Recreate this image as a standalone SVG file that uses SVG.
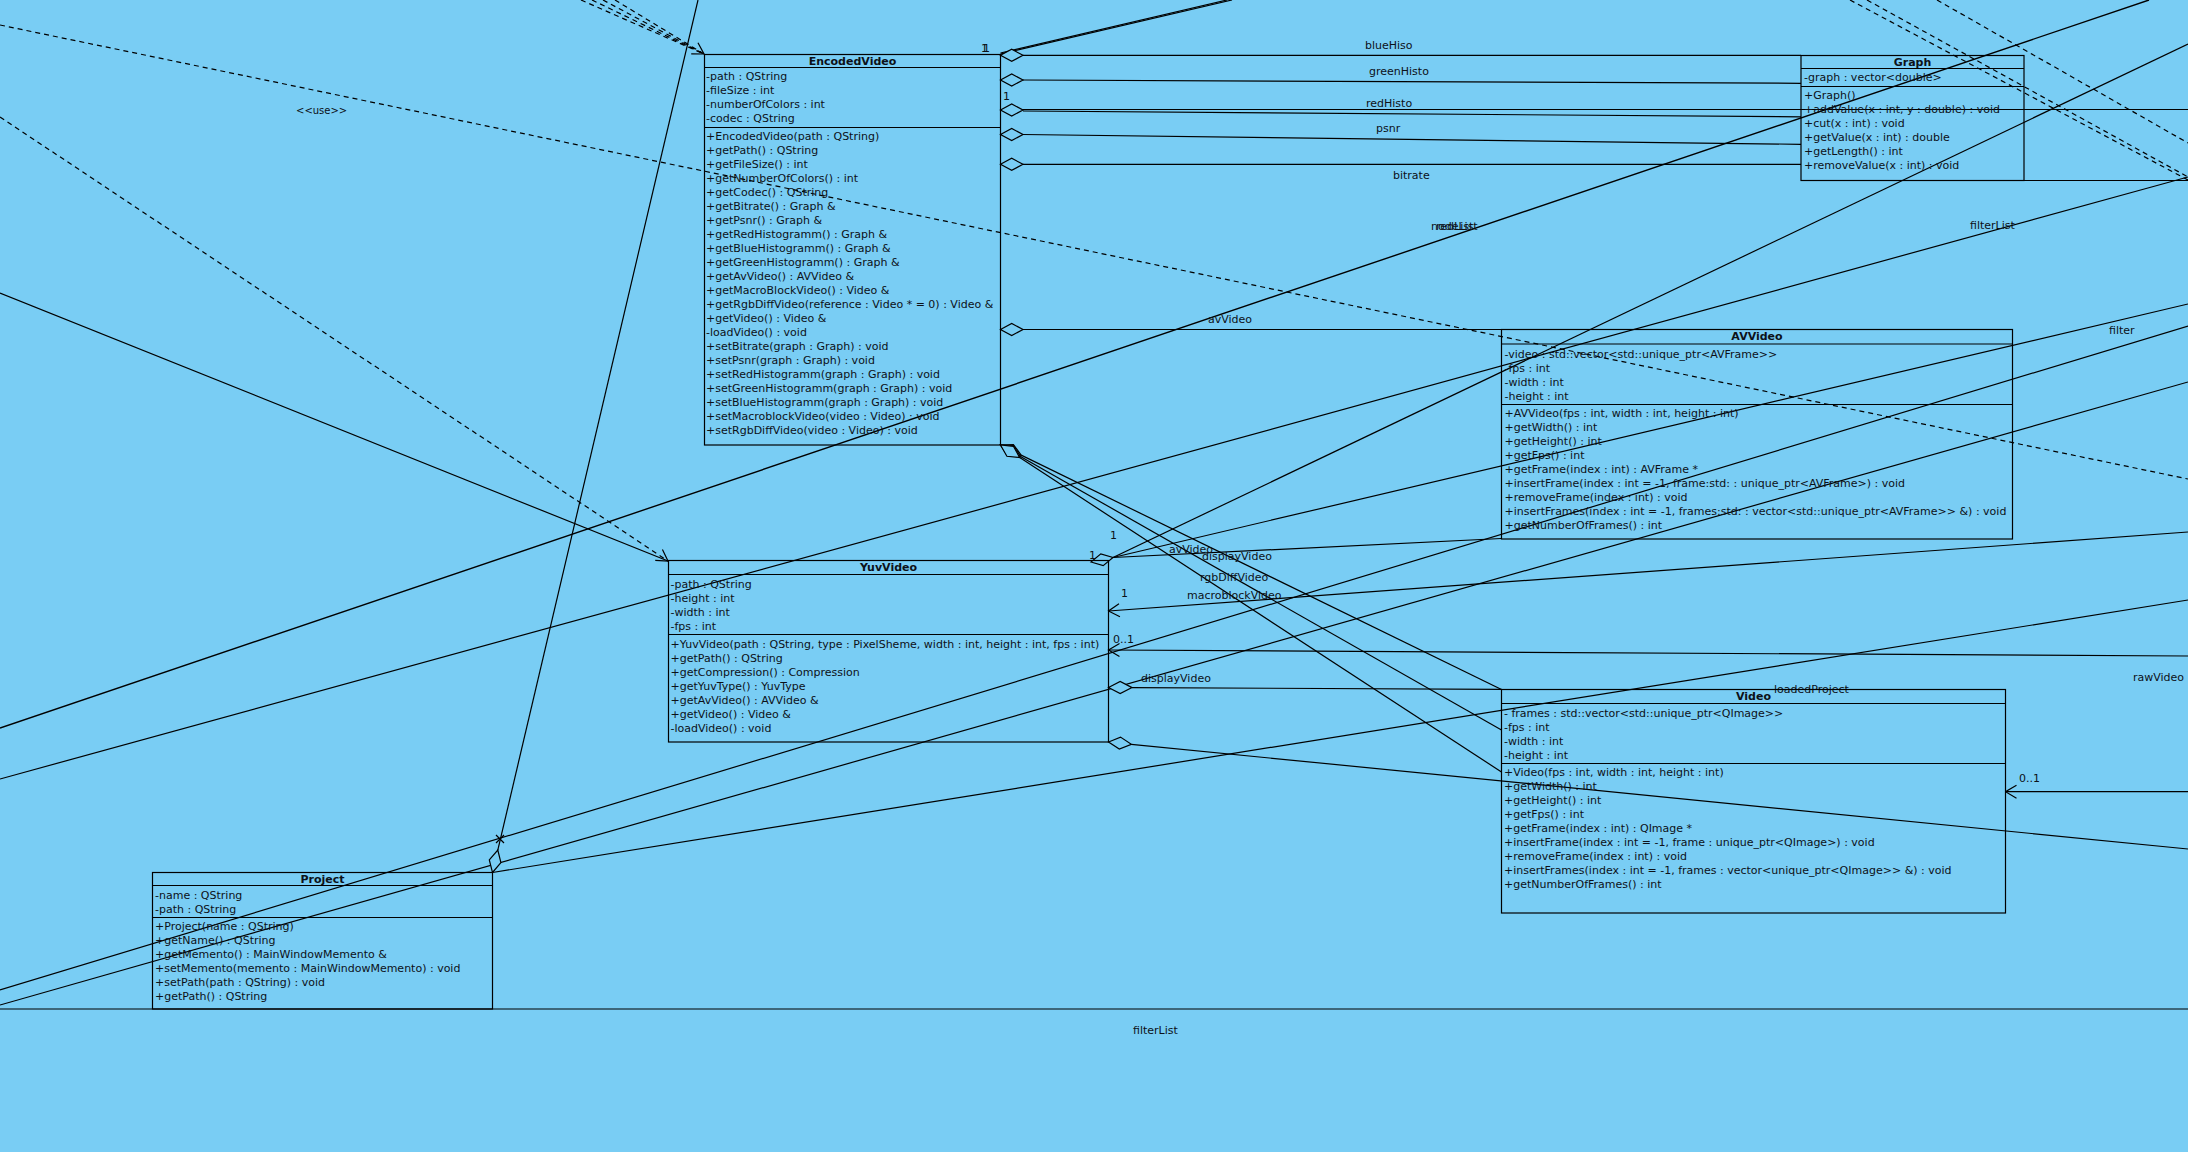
<svg xmlns="http://www.w3.org/2000/svg" width="2188" height="1152" viewBox="0 0 2188 1152">
<style>
text{font-family:"DejaVu Sans","Liberation Sans",sans-serif;font-size:11px;fill:#0d1118}
.t{font-weight:bold;text-anchor:middle}
.box{fill:none;stroke:#000;stroke-width:1.2}
.sep{stroke:#000;stroke-width:1.2}
.c{fill:none;stroke:#000;stroke-width:1.2}
.d{fill:none;stroke:#000;stroke-width:1.2;stroke-dasharray:5,4}
.dia{fill:#79cdf4;stroke:#000;stroke-width:1.2}
</style>
<defs>
<marker id="oa" viewBox="-14 -8 15 16" markerWidth="15" markerHeight="16" refX="0" refY="0" orient="auto" markerUnits="userSpaceOnUse">
<path d="M-11,-6.5 L0,0 L-11,6.5" fill="none" stroke="#000" stroke-width="1.2"/>
</marker>
</defs>
<rect x="0" y="0" width="2188" height="1152" fill="#79cdf4"/>

<g id="connectors">
<line class="d" x1="0" y1="25" x2="2188" y2="479"/>
<line class="d" x1="0" y1="117" x2="668" y2="561" marker-end="url(#oa)"/>
<line class="d" x1="581" y1="0" x2="704" y2="54"/>
<line class="d" x1="592" y1="0" x2="704" y2="54"/>
<line class="d" x1="603" y1="0" x2="704" y2="54"/>
<line class="d" x1="615" y1="0" x2="704" y2="54" marker-end="url(#oa)"/>
<line class="d" x1="1850" y1="0" x2="2188" y2="180"/>
<line class="d" x1="1867" y1="0" x2="2188" y2="177"/>
<line class="d" x1="1937" y1="0" x2="2188" y2="143"/>
<line class="c" x1="0" y1="293" x2="668" y2="561"/>
<line class="c" x1="0" y1="728" x2="2149" y2="0" style="stroke-width:1.4"/>
<line class="c" x1="0" y1="779" x2="2188" y2="177"/>
<line class="c" x1="0" y1="990" x2="2188" y2="326"/>
<line class="c" x1="0" y1="1005" x2="2188" y2="382"/>
<line class="c" x1="0" y1="1009" x2="2188" y2="1009"/>
<line class="c" x1="2024" y1="180.5" x2="2188" y2="180.5"/>
<line class="c" x1="698" y1="0" x2="497.8" y2="850.1"/>
<line class="c" x1="492.5" y1="872.5" x2="2188" y2="600"/>
<line class="c" x1="1000.5" y1="53" x2="1227" y2="0"/>
<line class="c" x1="1000.5" y1="54" x2="1232" y2="0"/>
<line class="c" x1="1023" y1="55.3" x2="1801" y2="55.3"/>
<line class="c" x1="1023" y1="80" x2="1801" y2="83.3"/>
<line class="c" x1="1000.5" y1="109.5" x2="2188" y2="109.5"/>
<line class="c" x1="1023" y1="111" x2="1801" y2="116.8"/>
<line class="c" x1="1023" y1="134.5" x2="1801" y2="144.3"/>
<line class="c" x1="1023" y1="164.3" x2="1801" y2="164.3"/>
<line class="c" x1="1023" y1="329.5" x2="1501.5" y2="329.5"/>
<line class="c" x1="1021.2" y1="455.1" x2="1501.5" y2="689.5"/>
<line class="c" x1="1020.5" y1="456.4" x2="1501.5" y2="730"/>
<line class="c" x1="1019.75" y1="457.6" x2="1501.5" y2="772"/>
<line class="c" x1="1113" y1="557.5" x2="1501.5" y2="538.5"/>
<line class="c" x1="1113" y1="557.5" x2="2188" y2="44"/>
<line class="c" x1="1113" y1="557.5" x2="2188" y2="304"/>
<line class="c" x1="2188" y1="532" x2="1108.5" y2="611" marker-end="url(#oa)"/>
<line class="c" x1="2188" y1="656" x2="1108.5" y2="650" marker-end="url(#oa)"/>
<line class="c" x1="1132" y1="687.6" x2="1501.5" y2="689.3"/>
<line class="c" x1="1131.4" y1="744.3" x2="2188" y2="849"/>
<line class="c" x1="2188" y1="791.7" x2="2005.5" y2="791.7" marker-end="url(#oa)"/>
<polygon class="dia" points="1000.5,55.3 1011.7,49.3 1023,55.3 1011.7,61.3"/>
<polygon class="dia" points="1000.5,80 1011.7,74 1023,80 1011.7,86"/>
<polygon class="dia" points="1000.5,110 1011.7,104 1023,110 1011.7,116"/>
<polygon class="dia" points="1000.5,134.5 1011.7,128.5 1023,134.5 1011.7,140.5"/>
<polygon class="dia" points="1000.5,164.3 1011.7,158.3 1023,164.3 1011.7,170.3"/>
<polygon class="dia" points="1000.5,329.5 1011.7,323.5 1023,329.5 1011.7,335.5"/>
<polygon class="dia" points="1000.5,445 1008.2,455.4 1021.2,455.1 1013.4,444.6"/>
<polygon class="dia" points="1000.5,445 1007.5,455.9 1020.5,456.4 1013.5,445.5"/>
<polygon class="dia" points="1000.5,445 1006.9,456.3 1019.75,457.6 1013.4,446.3"/>
<polygon class="dia" points="1091,562 1103.2,565.6 1113,557.5 1100.8,553.9"/>
<polygon class="dia" points="1108.5,687.5 1120.2,681.5 1132,687.6 1120.2,693.5"/>
<polygon class="dia" points="1108.5,742 1119.3,749.1 1131.4,744.3 1120.5,737.1"/>
<polygon class="dia" points="492.5,872.5 500.9,862.7 497.8,850.1 489.3,859.9"/>
<path class="c" d="M496,835 L504,843 M504,835 L496,843"/>
<text x="296" y="114" style="font-size:10px">&lt;&lt;use&gt;&gt;</text>
<text x="981" y="51.7">1</text>
<text x="983" y="51.7">1</text>
<text x="1003" y="100">1</text>
<text x="1365" y="48.5">blueHiso</text>
<text x="1369" y="75">greenHisto</text>
<text x="1366" y="106.5">redHisto</text>
<text x="1376" y="131.5">psnr</text>
<text x="1393" y="179">bitrate</text>
<text x="1431" y="230">nodeList</text>
<text x="1436" y="230">redList</text>
<text x="1970" y="228.5">filterList</text>
<text x="1208" y="322.5">avVideo</text>
<text x="2109" y="334">filter</text>
<text x="1110" y="539">1</text>
<text x="1089" y="559">1</text>
<text x="1169" y="553">avVideo</text>
<text x="1202" y="560">displayVideo</text>
<text x="1200" y="580.5">rgbDiffVideo</text>
<text x="1187" y="599">macroblockVideo</text>
<text x="1121" y="597">1</text>
<text x="1113" y="642.5">0..1</text>
<text x="1141" y="682">displayVideo</text>
<text x="1774" y="693">loadedProject</text>
<text x="2133" y="681">rawVideo</text>
<text x="2019" y="781.5">0..1</text>
<text x="1133" y="1034">filterList</text>
</g>

<g id="EncodedVideo">
<rect class="box" x="704.5" y="54.5" width="296" height="390.5"/>
<line class="sep" x1="704.5" y1="67.5" x2="1000.5" y2="67.5"/>
<line class="sep" x1="704.5" y1="127.5" x2="1000.5" y2="127.5"/>
<text class="t" x="852.5" y="65">EncodedVideo</text>
<text x="706" y="80">-path : QString</text>
<text x="706" y="94">-fileSize : int</text>
<text x="706" y="108">-numberOfColors : int</text>
<text x="706" y="122">-codec : QString</text>
<text x="706" y="140">+EncodedVideo(path : QString)</text>
<text x="706" y="154">+getPath() : QString</text>
<text x="706" y="168">+getFileSize() : int</text>
<text x="706" y="182">+getNumberOfColors() : int</text>
<text x="706" y="196">+getCodec() : QString</text>
<text x="706" y="210">+getBitrate() : Graph &amp;</text>
<text x="706" y="224">+getPsnr() : Graph &amp;</text>
<text x="706" y="238">+getRedHistogramm() : Graph &amp;</text>
<text x="706" y="252">+getBlueHistogramm() : Graph &amp;</text>
<text x="706" y="266">+getGreenHistogramm() : Graph &amp;</text>
<text x="706" y="280">+getAvVideo() : AVVideo &amp;</text>
<text x="706" y="294">+getMacroBlockVideo() : Video &amp;</text>
<text x="706" y="308">+getRgbDiffVideo(reference : Video * = 0) : Video &amp;</text>
<text x="706" y="322">+getVideo() : Video &amp;</text>
<text x="706" y="336">-loadVideo() : void</text>
<text x="706" y="350">+setBitrate(graph : Graph) : void</text>
<text x="706" y="364">+setPsnr(graph : Graph) : void</text>
<text x="706" y="378">+setRedHistogramm(graph : Graph) : void</text>
<text x="706" y="392">+setGreenHistogramm(graph : Graph) : void</text>
<text x="706" y="406">+setBlueHistogramm(graph : Graph) : void</text>
<text x="706" y="420">+setMacroblockVideo(video : Video) : void</text>
<text x="706" y="434">+setRgbDiffVideo(video : Video) : void</text>
</g>

<g id="Graph">
<rect class="box" x="1801" y="55.5" width="223" height="125"/>
<line class="sep" x1="1801" y1="68.5" x2="2024" y2="68.5"/>
<line class="sep" x1="1801" y1="86.5" x2="2024" y2="86.5"/>
<text class="t" x="1912.5" y="66">Graph</text>
<text x="1804" y="81">-graph : vector&lt;double&gt;</text>
<text x="1804" y="99">+Graph()</text>
<text x="1804" y="113">+addValue(x : int, y : double) : void</text>
<text x="1804" y="127">+cut(x : int) : void</text>
<text x="1804" y="141">+getValue(x : int) : double</text>
<text x="1804" y="155">+getLength() : int</text>
<text x="1804" y="169">+removeValue(x : int) : void</text>
</g>

<g id="AVVideo">
<rect class="box" x="1501.5" y="329.5" width="511" height="209.5"/>
<line class="sep" x1="1501.5" y1="344" x2="2012.5" y2="344"/>
<line class="sep" x1="1501.5" y1="404.5" x2="2012.5" y2="404.5"/>
<text class="t" x="1757" y="340">AVVideo</text>
<text x="1504.5" y="357.5">-video : std::vector&lt;std::unique_ptr&lt;AVFrame&gt;&gt;</text>
<text x="1504.5" y="371.5">-fps : int</text>
<text x="1504.5" y="385.5">-width : int</text>
<text x="1504.5" y="399.5">-height : int</text>
<text x="1504.5" y="417">+AVVideo(fps : int, width : int, height : int)</text>
<text x="1504.5" y="431">+getWidth() : int</text>
<text x="1504.5" y="445">+getHeight() : int</text>
<text x="1504.5" y="459">+getFps() : int</text>
<text x="1504.5" y="473">+getFrame(index : int) : AVFrame *</text>
<text x="1504.5" y="487">+insertFrame(index : int = -1, frame:std: : unique_ptr&lt;AVFrame&gt;) : void</text>
<text x="1504.5" y="501">+removeFrame(index : int) : void</text>
<text x="1504.5" y="515">+insertFrames(index : int = -1, frames:std: : vector&lt;std::unique_ptr&lt;AVFrame&gt;&gt; &amp;) : void</text>
<text x="1504.5" y="529">+getNumberOfFrames() : int</text>
</g>

<g id="YuvVideo">
<rect class="box" x="668.5" y="560.5" width="440" height="181.5"/>
<line class="sep" x1="668.5" y1="574.5" x2="1108.5" y2="574.5"/>
<line class="sep" x1="668.5" y1="634.5" x2="1108.5" y2="634.5"/>
<text class="t" x="888.5" y="571">YuvVideo</text>
<text x="670.5" y="587.5">-path : QString</text>
<text x="670.5" y="601.5">-height : int</text>
<text x="670.5" y="615.5">-width : int</text>
<text x="670.5" y="629.5">-fps : int</text>
<text x="670.5" y="647.5">+YuvVideo(path : QString, type : PixelSheme, width : int, height : int, fps : int)</text>
<text x="670.5" y="661.5">+getPath() : QString</text>
<text x="670.5" y="675.5">+getCompression() : Compression</text>
<text x="670.5" y="689.5">+getYuvType() : YuvType</text>
<text x="670.5" y="703.5">+getAvVideo() : AVVideo &amp;</text>
<text x="670.5" y="717.5">+getVideo() : Video &amp;</text>
<text x="670.5" y="731.5">-loadVideo() : void</text>
</g>

<g id="Video">
<rect class="box" x="1501.5" y="689.5" width="504" height="223.5"/>
<line class="sep" x1="1501.5" y1="703.5" x2="2005.5" y2="703.5"/>
<line class="sep" x1="1501.5" y1="763.5" x2="2005.5" y2="763.5"/>
<text class="t" x="1753.5" y="700">Video</text>
<text x="1504" y="716.5">- frames : std::vector&lt;std::unique_ptr&lt;QImage&gt;&gt;</text>
<text x="1504" y="730.5">-fps : int</text>
<text x="1504" y="744.5">-width : int</text>
<text x="1504" y="758.5">-height : int</text>
<text x="1504" y="776">+Video(fps : int, width : int, height : int)</text>
<text x="1504" y="790">+getWidth() : int</text>
<text x="1504" y="804">+getHeight() : int</text>
<text x="1504" y="818">+getFps() : int</text>
<text x="1504" y="832">+getFrame(index : int) : QImage *</text>
<text x="1504" y="846">+insertFrame(index : int = -1, frame : unique_ptr&lt;QImage&gt;) : void</text>
<text x="1504" y="860">+removeFrame(index : int) : void</text>
<text x="1504" y="874">+insertFrames(index : int = -1, frames : vector&lt;unique_ptr&lt;QImage&gt;&gt; &amp;) : void</text>
<text x="1504" y="888">+getNumberOfFrames() : int</text>
</g>

<g id="Project">
<rect class="box" x="152.5" y="872.5" width="340" height="136.5"/>
<line class="sep" x1="152.5" y1="885.5" x2="492.5" y2="885.5"/>
<line class="sep" x1="152.5" y1="917.5" x2="492.5" y2="917.5"/>
<text class="t" x="322.5" y="883">Project</text>
<text x="155" y="898.5">-name : QString</text>
<text x="155" y="912.5">-path : QString</text>
<text x="155" y="930">+Project(name : QString)</text>
<text x="155" y="944">+getName() : QString</text>
<text x="155" y="958">+getMemento() : MainWindowMemento &amp;</text>
<text x="155" y="972">+setMemento(memento : MainWindowMemento) : void</text>
<text x="155" y="986">+setPath(path : QString) : void</text>
<text x="155" y="1000">+getPath() : QString</text>
</g>
</svg>
